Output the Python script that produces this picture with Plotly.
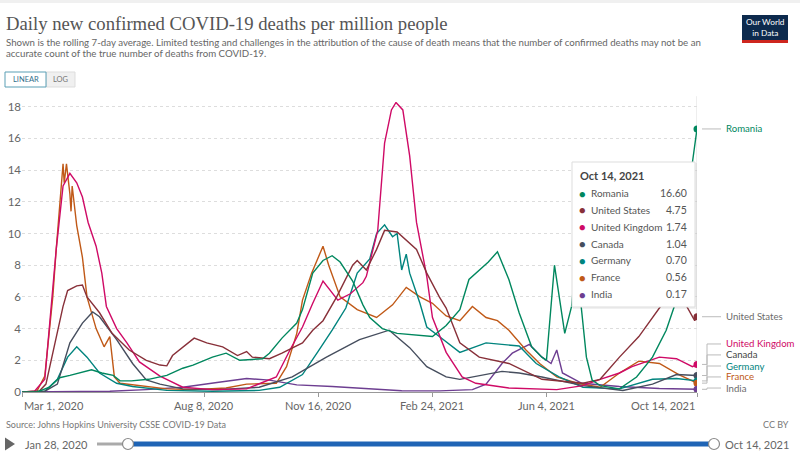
import datetime as dt
import plotly.graph_objects as go

# Daily new confirmed COVID-19 deaths per million (rolling 7-day avg)
romania_dates = ["2020-03-01", "2020-03-15", "2020-03-25", "2020-04-03", "2020-04-12", "2020-04-20",
                 "2020-05-01", "2020-05-10", "2020-05-20", "2020-05-26", "2020-06-05", "2020-06-20",
                 "2020-07-06", "2020-07-20", "2020-07-29", "2020-08-15", "2020-08-27", "2020-09-08",
                 "2020-09-28", "2020-10-04", "2020-10-15", "2020-10-28", "2020-11-02", "2020-11-11",
                 "2020-11-20", "2020-11-28", "2020-12-05", "2020-12-16", "2020-12-25", "2020-12-31",
                 "2021-01-11", "2021-01-24", "2021-02-10", "2021-02-24", "2021-03-08", "2021-03-20",
                 "2021-03-28", "2021-04-06", "2021-04-14", "2021-04-22", "2021-05-02", "2021-05-11",
                 "2021-05-22", "2021-05-31", "2021-06-04", "2021-06-11", "2021-06-20", "2021-06-26",
                 "2021-06-30", "2021-07-05", "2021-07-09", "2021-07-14", "2021-07-21", "2021-08-07",
                 "2021-08-22", "2021-09-05", "2021-09-17", "2021-09-26", "2021-10-05", "2021-10-10",
                 "2021-10-14"]
romania_vals = [0, 0.02, 0.3, 0.9, 1.05, 1.2,
                1.4, 1.2, 1.05, 0.7, 0.7, 0.8,
                1.05, 1.5, 1.7, 2.2, 2.45, 2.0,
                2.1, 2.45, 3.4, 4.35, 5.2, 7.5,
                8.3, 8.6, 8.2, 7.0, 5.5, 4.7,
                4.0, 3.7, 3.6, 3.5, 4.2, 5.2,
                7.1, 7.7, 8.2, 8.85, 7.1, 5.0,
                2.85, 2.2, 2.0, 8.0, 3.7, 5.4,
                8.5, 5.0, 2.2, 0.76, 0.4, 0.2,
                0.95, 2.2, 3.9, 5.8, 10.0, 14.5,
                16.6]

us_dates = ["2020-03-01", "2020-03-16", "2020-03-22", "2020-03-28", "2020-04-06", "2020-04-10",
            "2020-04-18", "2020-04-23", "2020-04-27", "2020-05-08", "2020-05-19", "2020-06-03",
            "2020-06-18", "2020-06-30", "2020-07-06", "2020-07-11", "2020-07-20", "2020-07-30",
            "2020-08-10", "2020-08-24", "2020-09-06", "2020-09-14", "2020-09-19", "2020-10-04",
            "2020-10-15", "2020-11-02", "2020-11-11", "2020-11-20", "2020-12-02", "2020-12-16",
            "2020-12-20", "2020-12-28", "2021-01-06", "2021-01-13", "2021-01-24", "2021-02-01",
            "2021-02-10", "2021-02-19", "2021-03-02", "2021-03-08", "2021-03-20", "2021-04-06",
            "2021-05-02", "2021-05-31", "2021-07-06", "2021-07-21", "2021-08-07", "2021-08-24",
            "2021-09-05", "2021-09-14", "2021-09-22", "2021-10-05", "2021-10-12", "2021-10-14"]
us_vals = [0, 0.05, 0.5, 2.4, 5.4, 6.4,
           6.7, 6.75, 6.0, 5.0, 3.7, 2.65,
           2.0, 1.7, 1.65, 2.3, 2.85, 3.4,
           3.1, 2.85, 2.3, 2.55, 2.2, 2.1,
           2.45, 3.1, 3.9, 4.5, 6.0, 8.0,
           8.3, 7.7, 9.0, 10.2, 10.1, 9.6,
           9.0, 7.5, 6.0, 5.3, 3.1, 2.2,
           1.8, 0.8, 0.55, 0.8, 2.2, 3.5,
           4.7, 5.6, 6.1, 5.4, 4.5, 4.75]

uk_dates = ["2020-03-01", "2020-03-12", "2020-03-21", "2020-03-31", "2020-04-06", "2020-04-12",
            "2020-04-18", "2020-04-23", "2020-04-28", "2020-05-05", "2020-05-10", "2020-05-14",
            "2020-05-23", "2020-06-01", "2020-06-12", "2020-06-30", "2020-07-20", "2020-08-15",
            "2020-09-14", "2020-09-28", "2020-10-10", "2020-10-22", "2020-11-02", "2020-11-11",
            "2020-11-20", "2020-12-03", "2020-12-14", "2020-12-25", "2020-12-28", "2021-01-07",
            "2021-01-13", "2021-01-19", "2021-01-23", "2021-01-29", "2021-02-04", "2021-02-10",
            "2021-02-19", "2021-02-24", "2021-03-08", "2021-03-22", "2021-04-03", "2021-05-02",
            "2021-06-13", "2021-07-06", "2021-07-21", "2021-08-07", "2021-08-18", "2021-09-11",
            "2021-09-26", "2021-10-10", "2021-10-14"]
uk_vals = [0, 0.05, 0.8, 9.0, 13.0, 13.8,
           13.2, 12.3, 10.7, 9.2, 7.5, 5.4,
           4.0, 3.1, 1.9, 1.0, 0.3, 0.15,
           0.2, 0.6, 0.95, 2.65, 4.1, 5.6,
           7.0, 5.8, 6.2, 6.9, 7.3, 10.2,
           15.7, 17.8, 18.27, 17.8, 14.9, 10.7,
           7.3, 4.7, 2.5, 0.95, 0.55, 0.25,
           0.15, 0.4, 0.8, 1.2, 1.6, 2.2,
           2.1, 1.6, 1.74]

canada_dates = ["2020-03-01", "2020-03-21", "2020-04-01", "2020-04-12", "2020-04-23", "2020-05-02",
                "2020-05-08", "2020-05-23", "2020-06-06", "2020-06-18", "2020-06-30", "2020-07-20",
                "2020-08-20", "2020-09-25", "2020-10-24", "2020-11-23", "2020-12-22", "2021-01-17",
                "2021-02-04", "2021-02-19", "2021-03-08", "2021-03-20", "2021-04-26", "2021-05-11",
                "2021-05-31", "2021-07-06", "2021-08-10", "2021-09-05", "2021-09-26", "2021-10-14"]
canada_vals = [0, 0.05, 0.5, 3.1, 4.35, 5.05,
               4.75, 3.3, 1.8, 0.76, 0.5, 0.2,
               0.15, 0.3, 0.95, 2.2, 3.3, 3.9,
               2.8, 1.6, 0.95, 0.8, 1.3, 1.2,
               0.95, 0.4, 0.1, 0.5, 1.1, 1.04]

germany_dates = ["2020-03-01", "2020-03-21", "2020-04-01", "2020-04-10", "2020-04-18", "2020-04-27",
                 "2020-05-08", "2020-05-23", "2020-06-06", "2020-07-06", "2020-08-15", "2020-09-25",
                 "2020-10-13", "2020-11-02", "2020-11-16", "2020-11-28", "2020-12-10", "2020-12-20",
                 "2020-12-31", "2021-01-06", "2021-01-13", "2021-01-20", "2021-01-24", "2021-01-28",
                 "2021-02-01", "2021-02-04", "2021-02-13", "2021-02-19", "2021-03-02", "2021-03-20",
                 "2021-04-12", "2021-05-11", "2021-05-26", "2021-06-15", "2021-07-06", "2021-08-07",
                 "2021-09-05", "2021-09-26", "2021-10-14"]
germany_vals = [0, 0.05, 0.8, 2.2, 2.85, 2.2,
                1.2, 0.55, 0.35, 0.1, 0.05, 0.1,
                0.3, 1.1, 2.6, 3.9, 5.3, 7.5,
                8.4, 10.0, 10.55, 9.8, 10.0, 7.7,
                8.7, 7.5, 5.6, 4.1, 3.5, 2.5,
                3.1, 2.9, 1.8, 0.95, 0.3, 0.2,
                0.8, 0.85, 0.70]

france_dates = ["2020-03-01", "2020-03-14", "2020-03-21", "2020-03-28", "2020-03-31", "2020-04-04",
                "2020-04-06", "2020-04-07", "2020-04-09", "2020-04-12", "2020-04-13", "2020-04-14",
                "2020-04-18", "2020-04-23", "2020-04-27", "2020-05-05", "2020-05-12", "2020-05-17",
                "2020-05-21", "2020-05-26", "2020-06-12", "2020-07-06", "2020-07-29", "2020-08-27",
                "2020-09-14", "2020-10-10", "2020-10-19", "2020-10-28", "2020-11-02", "2020-11-10",
                "2020-11-20", "2020-11-25", "2020-12-05", "2020-12-20", "2021-01-06", "2021-01-20",
                "2021-02-01", "2021-02-13", "2021-02-24", "2021-03-08", "2021-03-20", "2021-03-31",
                "2021-04-12", "2021-04-22", "2021-05-02", "2021-05-17", "2021-05-29", "2021-06-13",
                "2021-07-01", "2021-07-21", "2021-08-07", "2021-08-24", "2021-09-11", "2021-09-28",
                "2021-10-14"]
france_vals = [0, 0.05, 1.0, 6.0, 9.0, 13.0,
               14.4, 13.2, 14.4, 12.5, 11.4, 13.0,
               10.5, 8.5, 6.0, 4.0, 2.85, 3.5,
               0.95, 0.55, 0.4, 0.2, 0.15, 0.25,
               0.5, 0.55, 1.6, 3.7, 5.8, 7.5,
               9.2, 8.0, 6.0, 5.2, 4.7, 5.5,
               6.6, 6.0, 5.6, 4.8, 4.5, 5.4,
               4.7, 4.5, 3.9, 2.65, 1.8, 0.95,
               0.55, 0.3, 1.2, 1.95, 1.8, 1.1,
               0.56]

india_dates = ["2020-03-01", "2020-04-06", "2020-05-17", "2020-06-18", "2020-07-20", "2020-08-19",
               "2020-09-14", "2020-10-04", "2020-10-28", "2020-11-28", "2020-12-31", "2021-01-28",
               "2021-03-02", "2021-03-31", "2021-04-12", "2021-04-26", "2021-05-05", "2021-05-20",
               "2021-05-31", "2021-06-08", "2021-06-13", "2021-06-18", "2021-07-05", "2021-08-07",
               "2021-09-11", "2021-10-14"]
india_vals = [0, 0.01, 0.05, 0.15, 0.3, 0.6,
              0.85, 0.75, 0.45, 0.35, 0.18, 0.08,
              0.07, 0.15, 0.5, 1.8, 2.45, 3.0,
              2.2, 1.8, 2.65, 1.2, 0.55, 0.35,
              0.22, 0.17]

countries = ["Romania", "United States", "United Kingdom", "Canada", "Germany", "France", "India"]
all_dates = [romania_dates, us_dates, uk_dates, canada_dates, germany_dates, france_dates, india_dates]
all_vals = [romania_vals, us_vals, uk_vals, canada_vals, germany_vals, france_vals, india_vals]
line_colors = ["#00875e", "#883039", "#cf0a66", "#464e5e", "#00847e", "#c05917", "#6d3e91"]
label_colors = ["#00875e", "#6b6b6b", "#cf0a66", "#444444", "#00847e", "#c05917", "#6b6b6b"]
label_y = [16.6, 4.75, 3.03, 2.34, 1.64, 0.95, 0.25]  # where OWID stacks the end labels

tick_dates = ["2020-03-01", "2020-08-08", "2020-11-16", "2021-02-24", "2021-06-04", "2021-10-14"]
tick_text = ["Mar 1, 2020", "Aug 8, 2020", "Nov 16, 2020", "Feb 24, 2021", "Jun 4, 2021", "Oct 14, 2021"]
y_ticks = [0, 2, 4, 6, 8, 10, 12, 14, 16, 18]

W, H = 800, 459
ML, MR, MT, MB = 22, 103, 102, 67


def px(x):
    return (x - ML) / (W - ML - MR)


def py(y):
    return (H - MB - y) / (H - MT - MB)


def text(t, x, y, size, color, xa="left", ya="middle", family=None, **kw):
    f = dict(size=size, color=color)
    if family:
        f["family"] = family
    return dict(text=t, x=px(x), y=py(y), xref="paper", yref="paper", xanchor=xa, yanchor=ya,
                showarrow=False, font=f, **kw)


fig = go.Figure()
for i in reversed(range(len(countries))):
    fig.add_trace(go.Scatter(x=all_dates[i], y=all_vals[i], mode="lines", name=countries[i],
                             line=dict(color=line_colors[i], width=1.4), hoverinfo="skip"))
for i in range(len(countries)):
    fig.add_trace(go.Scatter(x=[all_dates[i][-1]], y=[all_vals[i][-1]], mode="markers",
                             marker=dict(color=line_colors[i], size=7), hoverinfo="skip"))

shapes = []
ann = []

# hover guide line at the last date
shapes.append(dict(type="line", xref="x", yref="paper", x0=tick_dates[-1], x1=tick_dates[-1],
                   y0=0, y1=1.02, line=dict(color="#dddddd", width=1), layer="below"))

# end labels with connectors
for i, name in enumerate(countries):
    v = all_vals[i][-1]
    ly = label_y[i]
    if abs(ly - v) < 0.05:
        segs = [(702, v, 721, v)]
    else:
        segs = [(702, v, 707, v), (707, v, 707, ly), (707, ly, 721, ly)]
    for (a, b, c, d) in segs:
        shapes.append(dict(type="line", xref="paper", yref="y", x0=px(a), x1=px(c), y0=b, y1=d,
                           line=dict(color="#bbbbbb", width=1)))
    ann.append(dict(text=name, x=px(724), y=ly, xref="paper", yref="y", xanchor="left",
                    yanchor="middle", showarrow=False, font=dict(size=9.6, color=label_colors[i])))

# x tick labels
for j, (d, t) in enumerate(zip(tick_dates, tick_text)):
    anchor = "left" if j == 0 else ("right" if j == len(tick_dates) - 1 else "center")
    ann.append(dict(text=t, x=d, y=py(405), xref="x", yref="paper", xanchor=anchor, yanchor="middle",
                    showarrow=False, font=dict(size=11, color="#666666")))

# tooltip box
shapes.append(dict(type="rect", xref="paper", yref="paper", x0=px(573), x1=px(697), y0=py(309), y1=py(163),
                   fillcolor="rgba(0,0,0,0.06)", line=dict(width=0)))
shapes.append(dict(type="rect", xref="paper", yref="paper", x0=px(572), x1=px(695), y0=py(307), y1=py(162),
                   fillcolor="white", line=dict(color="#dddddd", width=1)))
last_day = dt.date.fromisoformat(romania_dates[-1])
ann.append(text("<b>%s %d, %d</b>" % (last_day.strftime("%b"), last_day.day, last_day.year),
                578, 175, 11, "#444444"))
for i, name in enumerate(countries):
    ry = 193 + i * 16.85
    ann.append(text("●", 582, ry, 11, line_colors[i], xa="center"))
    ann.append(text(name, 589, ry, 10, "#555555"))
    ann.append(text("%.2f" % all_vals[i][-1], 689, ry, 10.5, "#555555", xa="right"))

# header
shapes.append(dict(type="rect", xref="paper", yref="paper", x0=px(0), x1=px(800), y0=py(3), y1=py(0),
                   fillcolor="#f0f0f0", line=dict(width=0)))
ann.append(text("Daily new confirmed COVID-19 deaths per million people", 4, 23, 18.7, "#555555",
                family="Liberation Serif"))
ann.append(text("Shown is the rolling 7-day average. Limited testing and challenges in the attribution of the "
                "cause of death means that the number of confirmed deaths may not be an", 4, 42, 9.7, "#666666"))
ann.append(text("accurate count of the true number of deaths from COVID-19.", 4, 53.5, 9.7, "#666666"))

# linear / log toggle
shapes.append(dict(type="rect", xref="paper", yref="paper", x0=px(46), x1=px(75), y0=py(87), y1=py(72),
                   fillcolor="#f0f0f0", line=dict(color="#dddddd", width=1)))
shapes.append(dict(type="rect", xref="paper", yref="paper", x0=px(5), x1=px(46), y0=py(87), y1=py(72),
                   fillcolor="white", line=dict(color="#5a9fb5", width=1)))
ann.append(text("LINEAR", 25.5, 79.5, 7.5, "#2f6e8a", xa="center"))
ann.append(text("LOG", 60.5, 79.5, 7.5, "#777777", xa="center"))

# logo
shapes.append(dict(type="rect", xref="paper", yref="paper", x0=px(742), x1=px(788), y0=py(43), y1=py(15),
                   fillcolor="#0d2a4d", line=dict(width=0)))
shapes.append(dict(type="rect", xref="paper", yref="paper", x0=px(742), x1=px(788), y0=py(43), y1=py(40),
                   fillcolor="#ce261e", line=dict(width=0)))
ann.append(text("Our World<br>in Data", 765, 27, 8.3, "white", xa="center", align="center"))

# footer
ann.append(text("Source: Johns Hopkins University CSSE COVID-19 Data", 4, 424, 9, "#777777"))
ann.append(text("CC BY", 791, 424, 9, "#777777", xa="right"))

# timeline
shapes.append(dict(type="path", xref="paper", yref="paper",
                   path="M %f %f L %f %f L %f %f Z" % (px(5), py(437.5), px(15), py(444), px(5), py(450.5)),
                   fillcolor="#666666", line=dict(width=0)))
ann.append(text("Jan 28, 2020", 23, 444, 11, "#666666"))
shapes.append(dict(type="line", xref="paper", yref="paper", x0=px(97), x1=px(128), y0=py(444), y1=py(444),
                   line=dict(color="#aaaaaa", width=3)))
shapes.append(dict(type="line", xref="paper", yref="paper", x0=px(128), x1=px(714), y0=py(444), y1=py(444),
                   line=dict(color="#1f64b5", width=5)))
for cx in (128, 714):
    shapes.append(dict(type="circle", xref="paper", yref="paper", x0=px(cx - 5.5), x1=px(cx + 5.5),
                       y0=py(449.5), y1=py(438.5), fillcolor="white", line=dict(color="#8a8a8a", width=1.2)))
ann.append(text("Oct 14, 2021", 791, 444, 11, "#666666", xa="right"))

fig.update_layout(
    width=W, height=H,
    margin=dict(l=ML, r=MR, t=MT, b=MB, autoexpand=False),
    paper_bgcolor="white", plot_bgcolor="white",
    font=dict(family="Lato", color="#666666"),
    showlegend=False, hovermode=False,
    shapes=shapes, annotations=ann,
    xaxis=dict(type="date", range=[tick_dates[0], tick_dates[-1]], showgrid=False, showline=True,
               linecolor="#999999", ticks="outside", ticklen=4, tickcolor="#999999",
               tickvals=tick_dates, showticklabels=False, zeroline=False),
    yaxis=dict(range=[0, 18.3], tickvals=y_ticks, showgrid=True, gridcolor="#dddddd", griddash="dot",
               zeroline=False, showline=False, ticks="", tickfont=dict(size=11.5, color="#666666")),
)

# the page's default 8px body margin would shift the whole figure
fig.write_html("out.html", config={"displayModeBar": False},
               post_script="document.body.style.margin = '0';")
